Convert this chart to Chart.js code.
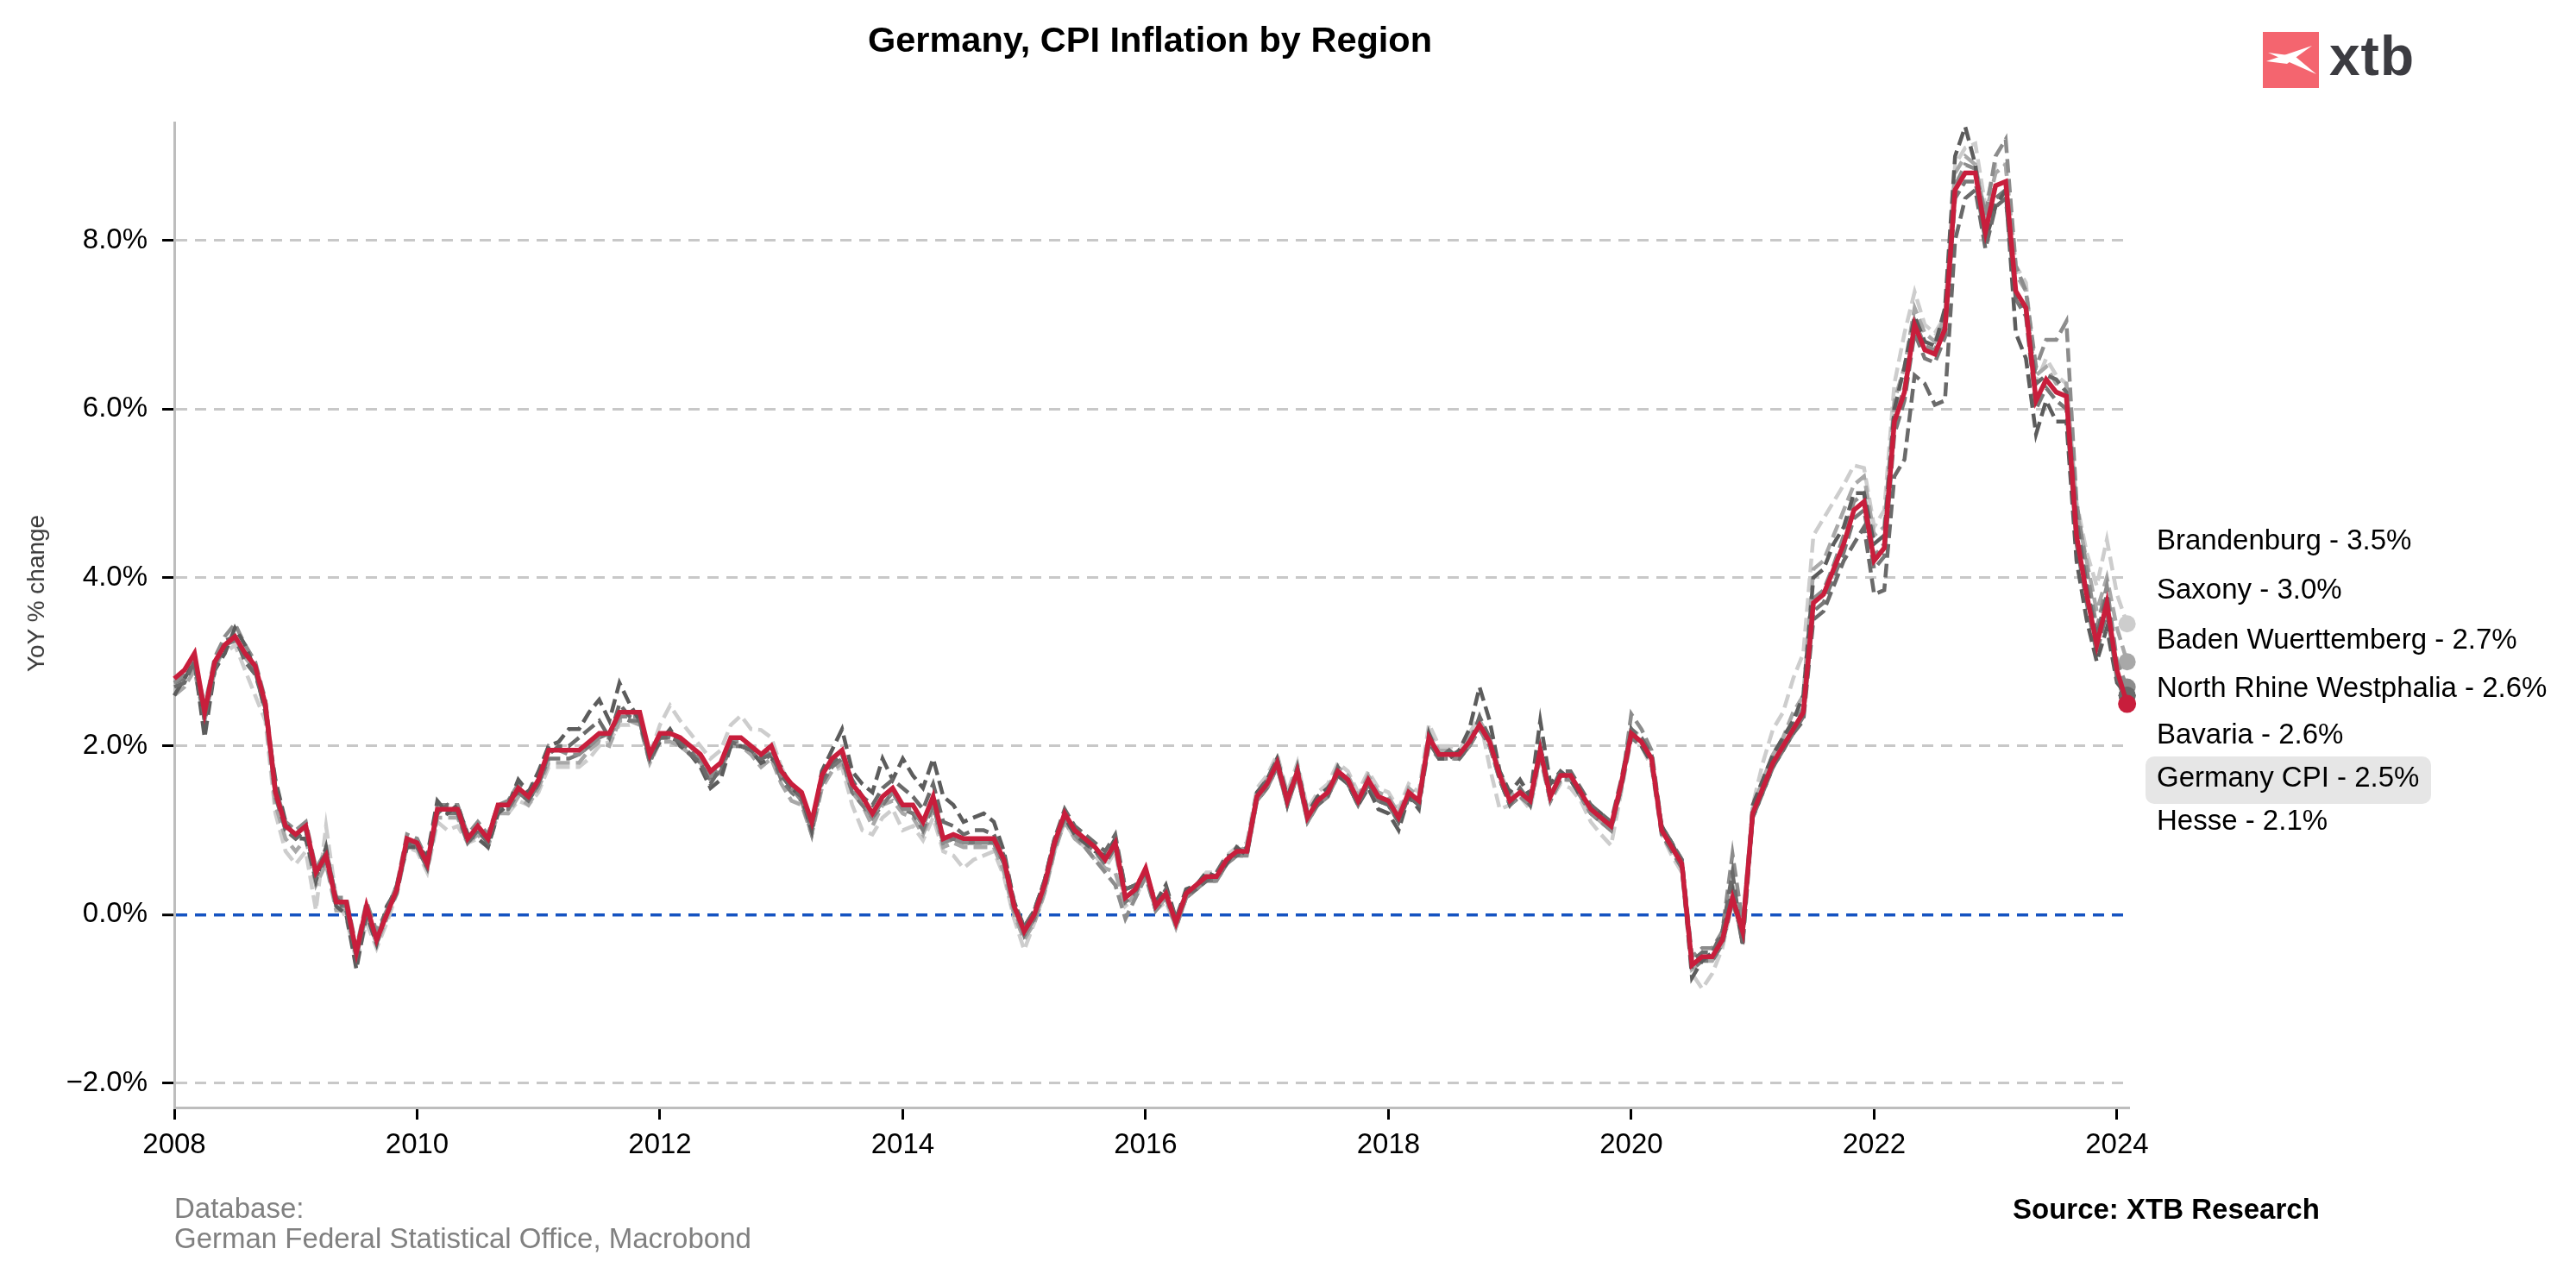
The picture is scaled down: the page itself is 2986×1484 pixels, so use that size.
<!DOCTYPE html>
<html>
<head>
<meta charset="utf-8">
<script src="https://cdn.jsdelivr.net/npm/chart.js@4.4.1/dist/chart.umd.min.js"></script>
<style>
  body { margin: 0; background: #fff; font-family: "Liberation Sans", Arial, sans-serif; }
  #wrap { position: relative; width: 2986px; height: 1484px; overflow: hidden; }
  #chart { position: absolute; left: 0; top: 0; }
  .txt { position: absolute; white-space: nowrap; font-size: 33px; line-height: 33px; color: #000; }
  #title { font-size: 41.5px; line-height: 41.5px; font-weight: bold; left: 1333px; top: 25px; transform: translateX(-50%); }
  #ytitle { font-size: 28px; line-height: 28px; color: #3a3a3a; left: 42px; top: 688px; transform: translate(-50%, -50%) rotate(-90deg); }
  #source { font-weight: bold; left: 2333px; top: 1385px; }
  .note { color: #808080; left: 202px; }
  .box { position: absolute; background: #e6e6e6; border-radius: 10px; }
  #logoBox { position: absolute; left: 2623px; top: 37px; width: 65px; height: 65px; background: #f4656f; }
  #logoTxt { position: absolute; left: 2700px; top: 33px; font-size: 64px; line-height: 64px; font-weight: bold; color: #3c3c41; letter-spacing: 1px; }
</style>
</head>
<body>
<div id="wrap">
  <canvas id="chart" width="2986" height="1484"></canvas>
  <div id="title" class="txt">Germany, CPI Inflation by Region</div>
  <div id="ytitle" class="txt">YoY % change</div>
  <div id="labels"></div>
  <div class="txt note" style="top:1384px">Database:</div>
  <div class="txt note" style="top:1419px">German Federal Statistical Office, Macrobond</div>
  <div id="source" class="txt">Source: XTB Research</div>
  <div id="logoBox">
    <svg width="65" height="65" viewBox="0 0 65 65">
      <path d="M57,16 L4,34 L28,37 Z" fill="#fff"/>
      <path d="M6,24 L62,49 L37,28 Z" fill="#fff"/>
    </svg>
  </div>
  <div id="logoTxt" class="txt">xtb</div>
</div>
<script>
// monthly YoY % change, Jan 2008 .. Feb 2024
const startYear = 2008;

const germanyCpi = [
  2.8, 2.9, 3.1, 2.4, 3.0, 3.2, 3.3, 3.1, 2.95, 2.5, 1.45, 1.05,
  0.95, 1.05, 0.5, 0.7, 0.15, 0.15, -0.45, 0.1, -0.3, 0.0, 0.3, 0.9,
  0.85, 0.6, 1.25, 1.25, 1.25, 0.9, 1.05, 0.9, 1.3, 1.3, 1.5, 1.4,
  1.6, 1.95, 1.95, 1.95, 1.95, 2.05, 2.15, 2.15, 2.4, 2.4, 2.4, 1.9,
  2.15, 2.15, 2.1, 2.0, 1.9, 1.7, 1.8, 2.1, 2.1, 2.0, 1.9, 2.0,
  1.7, 1.55, 1.45, 1.1, 1.65, 1.85, 1.95, 1.55, 1.4, 1.2, 1.4, 1.5,
  1.3, 1.3, 1.1, 1.4, 0.9, 0.95, 0.9, 0.9, 0.9, 0.9, 0.65, 0.1,
  -0.2, 0.0, 0.35, 0.85, 1.2, 1.0, 0.9, 0.8, 0.65, 0.85, 0.2, 0.3,
  0.55, 0.1, 0.25, -0.1, 0.25, 0.35, 0.45, 0.45, 0.65, 0.75, 0.75, 1.4,
  1.55, 1.8, 1.35, 1.7, 1.15, 1.35, 1.45, 1.7, 1.6, 1.35, 1.6, 1.4,
  1.35, 1.15, 1.45, 1.35, 2.1, 1.9, 1.9, 1.9, 2.05, 2.25, 2.05, 1.65,
  1.35, 1.45, 1.35, 1.95, 1.4, 1.65, 1.65, 1.45, 1.25, 1.15, 1.05, 1.55,
  2.15, 2.05, 1.85, 1.0, 0.8, 0.6, -0.6, -0.5, -0.5, -0.3, 0.2, -0.2,
  1.2, 1.5, 1.8, 2.0, 2.2, 2.4, 3.7, 3.8, 4.1, 4.4, 4.8, 4.9,
  4.2, 4.35, 5.85, 6.2, 7.0, 6.7, 6.65, 6.95, 8.6, 8.8, 8.8, 8.1,
  8.65, 8.7, 7.4, 7.2, 6.1, 6.35, 6.2, 6.15, 4.5, 3.8, 3.2, 3.7,
  2.9, 2.5
];

const bavaria = [
  2.6, 2.8, 3.0, 2.1, 2.9, 3.1, 3.4, 3.2, 2.9, 2.4, 1.6, 1.1,
  0.9, 0.9, 0.4, 0.8, 0.1, 0.0, -0.65, 0.0, -0.35, 0.1, 0.3, 0.8,
  0.8, 0.7, 1.35, 1.2, 1.3, 0.95, 0.9, 0.8, 1.2, 1.3, 1.6, 1.45,
  1.7, 2.0, 2.05, 2.2, 2.2, 2.4, 2.55, 2.3, 2.75, 2.5, 2.3, 1.85,
  2.05, 2.2, 2.0, 1.9, 1.75, 1.5, 1.6, 2.0, 2.0, 1.95, 1.8, 1.85,
  1.75, 1.5, 1.4, 1.0, 1.7, 1.95, 2.2, 1.7, 1.55, 1.45, 1.85, 1.6,
  1.85, 1.65, 1.5, 1.85, 1.4, 1.3, 1.1, 1.15, 1.2, 1.1, 0.75, 0.15,
  -0.15, 0.05, 0.4, 0.9, 1.15, 0.95, 0.85, 0.75, 0.7, 0.9, 0.3, 0.35,
  0.5, 0.15, 0.35, -0.05, 0.3, 0.35, 0.5, 0.45, 0.6, 0.8, 0.7, 1.45,
  1.6, 1.85, 1.4, 1.7, 1.2, 1.4, 1.5, 1.65, 1.55, 1.3, 1.5, 1.25,
  1.2, 1.0, 1.4, 1.25, 2.15, 1.85, 1.85, 1.95, 2.2, 2.7, 2.3, 1.7,
  1.45, 1.6, 1.4, 2.3, 1.55, 1.7, 1.6, 1.4, 1.3, 1.2, 1.05, 1.5,
  2.2, 2.0, 1.8, 1.05, 0.85, 0.6, -0.75, -0.55, -0.45, -0.25, 0.3, -0.35,
  1.3, 1.6, 1.9, 2.1, 2.3, 2.6, 4.0, 4.1, 4.4, 4.6, 5.0, 5.0,
  4.4, 4.5, 6.0, 6.5, 7.1, 6.8, 6.75, 7.2, 9.0, 9.35, 8.9, 8.0,
  8.4, 8.6, 6.9, 6.6, 5.7, 6.1, 5.85, 5.85, 4.2, 3.5, 3.0, 3.4,
  2.75, 2.6
];

const northRhineWestphalia = [
  2.7, 2.75, 3.0, 2.3, 2.9, 3.25, 3.3, 3.0, 2.85, 2.45, 1.5, 1.0,
  0.9, 1.0, 0.45, 0.75, 0.2, 0.05, -0.5, 0.05, -0.3, 0.05, 0.35, 0.85,
  0.8, 0.55, 1.2, 1.3, 1.2, 0.85, 1.0, 0.85, 1.25, 1.35, 1.45, 1.35,
  1.55, 1.9, 2.0, 2.0, 2.1, 2.2, 2.3, 2.1, 2.5, 2.35, 2.3, 1.85,
  2.1, 2.1, 2.05, 1.9, 1.8, 1.55, 1.75, 2.05, 2.0, 1.95, 1.85, 1.9,
  1.65, 1.5, 1.4, 1.05, 1.6, 1.8, 1.9, 1.6, 1.4, 1.3, 1.5, 1.6,
  1.5, 1.4, 1.25, 1.55, 1.1, 1.05, 0.95, 1.0, 1.0, 0.95, 0.7, 0.15,
  -0.15, 0.05, 0.4, 0.9, 1.25, 1.05, 0.95, 0.85, 0.75, 0.95, 0.3, 0.35,
  0.5, 0.1, 0.3, -0.05, 0.25, 0.3, 0.4, 0.5, 0.7, 0.7, 0.8, 1.4,
  1.6, 1.85, 1.3, 1.75, 1.2, 1.3, 1.4, 1.75, 1.55, 1.3, 1.55, 1.35,
  1.3, 1.1, 1.4, 1.3, 2.05, 1.85, 1.95, 1.85, 2.0, 2.35, 2.1, 1.6,
  1.3, 1.5, 1.3, 2.0, 1.45, 1.7, 1.7, 1.5, 1.3, 1.2, 1.1, 1.6,
  2.2, 2.1, 1.9, 1.05, 0.85, 0.65, -0.55, -0.45, -0.45, -0.2, 0.5, -0.37,
  1.15, 1.45, 1.75, 1.95, 2.15, 2.3, 3.5, 3.6, 3.9, 4.2, 4.4, 4.6,
  3.8, 3.85, 5.2, 5.4, 6.4, 6.3, 6.05, 6.1, 8.0, 8.5, 8.6, 7.9,
  8.4, 8.5, 7.3, 7.2, 6.3, 6.4, 6.35, 6.2, 4.7, 3.9, 3.3, 3.8,
  2.8, 2.6
];

const badenWuerttemberg = [
  2.75, 2.85, 3.05, 2.45, 3.05, 3.3, 3.45, 3.2, 3.0, 2.55, 1.5, 1.1,
  1.0, 1.1, 0.55, 0.75, 0.2, 0.2, -0.4, 0.15, -0.2, 0.05, 0.35, 0.95,
  0.9, 0.65, 1.3, 1.3, 1.3, 0.95, 1.1, 0.95, 1.3, 1.35, 1.55, 1.45,
  1.65, 2.0, 1.95, 1.9, 1.9, 2.0, 2.1, 2.1, 2.35, 2.35, 2.35, 1.85,
  2.1, 2.15, 2.1, 2.0, 1.85, 1.65, 1.75, 2.05, 2.05, 1.95, 1.85, 1.95,
  1.65, 1.5, 1.35, 0.95, 1.6, 1.8, 1.9, 1.5, 1.35, 1.15, 1.35, 1.45,
  1.25, 1.25, 1.05, 1.35, 0.85, 0.9, 0.85, 0.85, 0.85, 0.85, 0.6, 0.05,
  -0.25, -0.05, 0.3, 0.8, 1.15, 0.95, 0.8, 0.65, 0.5, 0.35, -0.05, 0.2,
  0.45, 0.05, 0.2, -0.15, 0.2, 0.3, 0.4, 0.4, 0.6, 0.7, 0.7, 1.35,
  1.5, 1.75, 1.3, 1.65, 1.1, 1.3, 1.4, 1.65, 1.55, 1.3, 1.55, 1.35,
  1.3, 1.1, 1.4, 1.3, 2.0, 1.85, 1.85, 1.85, 2.0, 2.2, 2.0, 1.6,
  1.3, 1.4, 1.3, 1.9, 1.35, 1.6, 1.6, 1.4, 1.2, 1.1, 1.0, 1.5,
  2.38, 2.2, 1.95, 1.05, 0.85, 0.65, -0.5, -0.4, -0.4, -0.2, 0.72, -0.1,
  1.25, 1.55, 1.85, 2.05, 2.25, 2.45, 3.75, 3.85, 4.15, 4.5, 4.9, 5.0,
  4.25, 4.4, 5.9, 6.25, 7.05, 6.75, 6.7, 7.0, 8.65, 8.9, 8.85, 8.3,
  9.0, 9.2, 7.7, 7.4, 6.5, 6.82, 6.82, 7.04, 4.9, 4.1, 3.4, 3.9,
  3.0, 2.7
];

const saxony = [
  2.6, 2.7, 2.9, 2.3, 2.9, 3.2, 3.3, 3.05, 2.9, 2.4, 1.3, 0.9,
  0.75, 0.9, 0.35, 0.6, 0.05, 0.05, -0.5, 0.0, -0.35, -0.05, 0.3, 0.85,
  0.8, 0.55, 1.15, 1.15, 1.15, 0.85, 0.95, 0.8, 1.2, 1.2, 1.4, 1.3,
  1.5, 1.8, 1.8, 1.8, 1.8, 1.95, 2.05, 2.0, 2.3, 2.3, 2.25, 1.8,
  2.05, 2.05, 2.0, 1.9, 1.8, 1.6, 1.7, 2.0, 2.0, 1.9, 1.75, 1.85,
  1.55, 1.35, 1.3, 0.95, 1.5, 1.7, 1.8, 1.45, 1.3, 1.05, 1.3, 1.35,
  1.2, 1.15, 0.95, 1.25, 0.8, 0.85, 0.8, 0.8, 0.8, 0.8, 0.5, 0.0,
  -0.3, -0.1, 0.25, 0.75, 1.1, 0.9, 0.8, 0.65, 0.55, 0.5, 0.1, 0.25,
  0.5, 0.05, 0.2, -0.15, 0.2, 0.3, 0.45, 0.45, 0.65, 0.75, 0.8, 1.45,
  1.6, 1.85, 1.4, 1.75, 1.2, 1.4, 1.5, 1.75, 1.65, 1.4, 1.65, 1.45,
  1.4, 1.2, 1.5, 1.4, 2.15, 1.95, 1.95, 1.9, 2.1, 2.3, 2.1, 1.7,
  1.4, 1.5, 1.35, 1.95, 1.4, 1.65, 1.65, 1.45, 1.2, 1.1, 1.0, 1.55,
  2.2, 2.1, 1.85, 1.0, 0.8, 0.55, -0.65, -0.55, -0.55, -0.35, 0.35, -0.15,
  1.25, 1.6, 1.9, 2.1, 2.4, 2.6, 4.1, 4.2, 4.5, 4.8, 5.1, 5.2,
  4.5, 4.6, 6.1, 6.5, 7.2, 6.9, 6.8, 7.1, 8.8, 9.0, 8.9, 8.3,
  8.8, 8.9, 7.6, 7.4, 6.4, 6.5, 6.3, 6.3, 4.8, 4.2, 3.6, 4.0,
  3.4, 3.0
];

const brandenburg = [
  2.7, 2.85, 3.0, 2.5, 3.0, 3.1, 3.2, 2.9, 2.6, 2.3, 1.2, 0.75,
  0.6, 0.75, 0.05, 1.05, 0.2, -0.05, -0.55, -0.1, -0.4, -0.1, 0.25, 0.8,
  0.75, 0.5, 1.1, 1.0, 1.05, 0.85, 0.9, 0.95, 1.2, 1.2, 1.35, 1.3,
  1.45, 1.75, 1.75, 1.75, 1.75, 1.85, 2.0, 2.05, 2.25, 2.25, 2.3, 1.9,
  2.25, 2.48, 2.3, 2.15, 2.0, 1.85, 1.95, 2.25, 2.36, 2.2, 2.19, 2.1,
  1.75, 1.5, 1.4, 1.05, 1.5, 1.7, 1.75, 1.3, 1.0, 0.95, 1.15, 1.25,
  1.0, 1.05, 0.88, 1.15, 0.75, 0.7, 0.55, 0.65, 0.7, 0.75, 0.45, -0.05,
  -0.42, -0.1, 0.25, 0.75, 1.1, 0.9, 0.8, 0.7, 0.55, 0.75, 0.1, 0.2,
  0.45, 0.05, 0.15, -0.15, 0.2, 0.35, 0.5, 0.5, 0.7, 0.8, 0.85, 1.5,
  1.65, 1.9, 1.45, 1.8, 1.25, 1.45, 1.55, 1.8, 1.7, 1.45, 1.7, 1.5,
  1.45, 1.25, 1.55, 1.45, 2.26, 2.0, 2.0, 1.95, 2.15, 2.35, 1.75, 1.25,
  1.3, 1.4, 1.25, 1.85, 1.35, 1.55, 1.5, 1.35, 1.1, 0.95, 0.82, 1.45,
  2.1, 2.0, 1.75, 0.95, 0.7, 0.5, -0.7, -0.88, -0.7, -0.4, 0.15, -0.25,
  1.3, 1.8, 2.2, 2.4, 2.8, 3.1, 4.5, 4.7, 4.9, 5.1, 5.33, 5.3,
  4.6, 4.8, 6.3, 6.9, 7.39, 7.0, 6.9, 7.1, 8.9, 9.1, 9.15, 8.4,
  8.9, 8.9, 7.7, 7.5, 6.3, 6.6, 6.4, 6.3, 4.9, 4.3, 3.9, 4.45,
  3.8, 3.45
];

// Hesse: last reading Jan 2024
const hesse = [
  2.75, 2.8, 3.0, 2.35, 2.95, 3.2, 3.25, 3.05, 2.9, 2.45, 1.4, 1.0,
  0.9, 1.0, 0.45, 0.65, 0.1, 0.1, -0.5, 0.05, -0.3, 0.0, 0.25, 0.85,
  0.8, 0.55, 1.2, 1.2, 1.2, 0.85, 1.0, 0.85, 1.25, 1.25, 1.45, 1.35,
  1.55, 1.85, 1.85, 1.85, 1.9, 2.0, 2.1, 2.15, 2.35, 2.3, 2.3, 1.8,
  2.1, 2.1, 2.05, 1.95, 1.8, 1.6, 1.7, 2.0, 2.0, 1.95, 1.8, 1.9,
  1.6, 1.45, 1.35, 1.0, 1.55, 1.75, 1.85, 1.45, 1.3, 1.15, 1.3, 1.45,
  1.25, 1.2, 1.0, 1.3, 0.85, 0.9, 0.85, 0.85, 0.85, 0.85, 0.6, 0.1,
  -0.25, -0.05, 0.3, 0.8, 1.15, 0.95, 0.85, 0.75, 0.6, 0.8, 0.15, 0.25,
  0.5, 0.05, 0.2, -0.1, 0.2, 0.3, 0.4, 0.4, 0.6, 0.7, 0.7, 1.35,
  1.5, 1.75, 1.3, 1.65, 1.1, 1.3, 1.4, 1.65, 1.55, 1.3, 1.55, 1.35,
  1.3, 1.1, 1.4, 1.3, 2.05, 1.85, 1.85, 1.85, 2.0, 2.2, 2.0, 1.6,
  1.3, 1.4, 1.3, 1.9, 1.35, 1.6, 1.6, 1.4, 1.2, 1.1, 1.0, 1.5,
  2.1, 2.0, 1.8, 0.95, 0.75, 0.55, -0.65, -0.55, -0.55, -0.35, 0.15, -0.25,
  1.15, 1.45, 1.75, 1.95, 2.15, 2.35, 3.6, 3.7, 4.0, 4.3, 4.7, 4.8,
  4.1, 4.25, 5.7, 6.1, 6.9, 6.6, 6.55, 6.85, 8.5, 8.7, 8.7, 8.0,
  8.5, 8.6, 7.3, 7.1, 6.0, 6.25, 6.1, 6.0, 4.4, 3.7, 3.1, 3.6,
  2.8
];

// right-hand labels (name, latest value)
const labelNames = ["Brandenburg", "Saxony", "Baden Wuerttemberg", "North Rhine Westphalia", "Bavaria", "Germany CPI", "Hesse"];
const labelValues = [3.5, 3.0, 2.7, 2.6, 2.6, 2.5, 2.1];
const labelTops = [609, 666, 724, 780, 834, 884, 934];

const xTicks = [2008, 2010, 2012, 2014, 2016, 2018, 2020, 2022, 2024];
const yTicks = [-2, 0, 2, 4, 6, 8];

const FONT = '"Liberation Sans", Arial, sans-serif';

function toPoints(values) {
  return values.map((v, i) => ({ x: startYear + i / 12, y: v }));
}

function regionLine(values, color, dot) {
  return {
    data: toPoints(values),
    borderColor: color,
    backgroundColor: color,
    borderWidth: 4.5,
    borderDash: [16, 7],
    pointRadius: ctx => (dot && ctx.dataIndex === values.length - 1) ? 10 : 0,
    pointBorderWidth: 0,
    clip: false
  };
}

// labels on the right
const labelBox = document.getElementById("labels");
labelNames.forEach((name, i) => {
  const top = labelTops[i];
  if (name === "Germany CPI") {
    const box = document.createElement("div");
    box.className = "box";
    box.style.cssText = `left:2487px;top:${top - 7}px;width:331px;height:55px;`;
    labelBox.appendChild(box);
  }
  const d = document.createElement("div");
  d.className = "txt";
  d.style.left = "2500px";
  d.style.top = top + "px";
  d.textContent = `${name} - ${labelValues[i].toFixed(1)}%`;
  labelBox.appendChild(d);
});

new Chart(document.getElementById("chart"), {
  type: "line",
  data: {
    datasets: [
      {
        data: toPoints(germanyCpi),
        borderColor: "#c81e3c",
        backgroundColor: "#c81e3c",
        borderWidth: 5.5,
        pointRadius: ctx => ctx.dataIndex === germanyCpi.length - 1 ? 10.5 : 0,
        pointBorderWidth: 0,
        clip: false
      },
      regionLine(northRhineWestphalia, "#6a6a6a", true),
      regionLine(bavaria, "#5c5c5c", true),
      regionLine(badenWuerttemberg, "#8c8c8c", true),
      regionLine(hesse, "#787878", false),
      regionLine(saxony, "#a8a8a8", true),
      regionLine(brandenburg, "#cdcdcd", true)
    ]
  },
  options: {
    responsive: false,
    animation: false,
    devicePixelRatio: 1,
    layout: { padding: { top: 142, right: 518, bottom: 0, left: 0 } },
    plugins: { legend: { display: false }, tooltip: { enabled: false }, title: { display: false } },
    elements: { line: { tension: 0 } },
    scales: {
      x: {
        type: "linear",
        min: 2008,
        max: 2024.1,
        afterFit: s => { s.height = 200; },
        afterBuildTicks: s => { s.ticks = xTicks.map(v => ({ value: v })); },
        ticks: { callback: v => String(v), font: { family: FONT, size: 33 }, color: "#000", padding: 10, maxRotation: 0, autoSkip: false },
        grid: { drawOnChartArea: false, drawTicks: true, tickLength: 14, tickWidth: 3, tickColor: "#000" },
        border: { color: "#bdbdbd", width: 3 }
      },
      y: {
        min: -2.29,
        max: 9.4,
        afterFit: s => { s.width = 202; },
        afterBuildTicks: s => { s.ticks = yTicks.map(v => ({ value: v })); },
        ticks: {
          callback: v => (v < 0 ? "\u2212" : "") + Math.abs(v).toFixed(1) + "%",
          font: { family: FONT, size: 33 }, color: "#000", padding: 17
        },
        grid: {
          color: c => (c.tick && c.tick.value === 0) ? "#1553c1" : "#c8c8c8",
          lineWidth: c => (c.tick && c.tick.value === 0) ? 3.5 : 3,
          tickLength: 14, tickWidth: 3, tickColor: "#000"
        },
        border: { color: "#bdbdbd", width: 3, dash: [13, 9] }
      }
    }
  }
});
</script>
</body>
</html>
